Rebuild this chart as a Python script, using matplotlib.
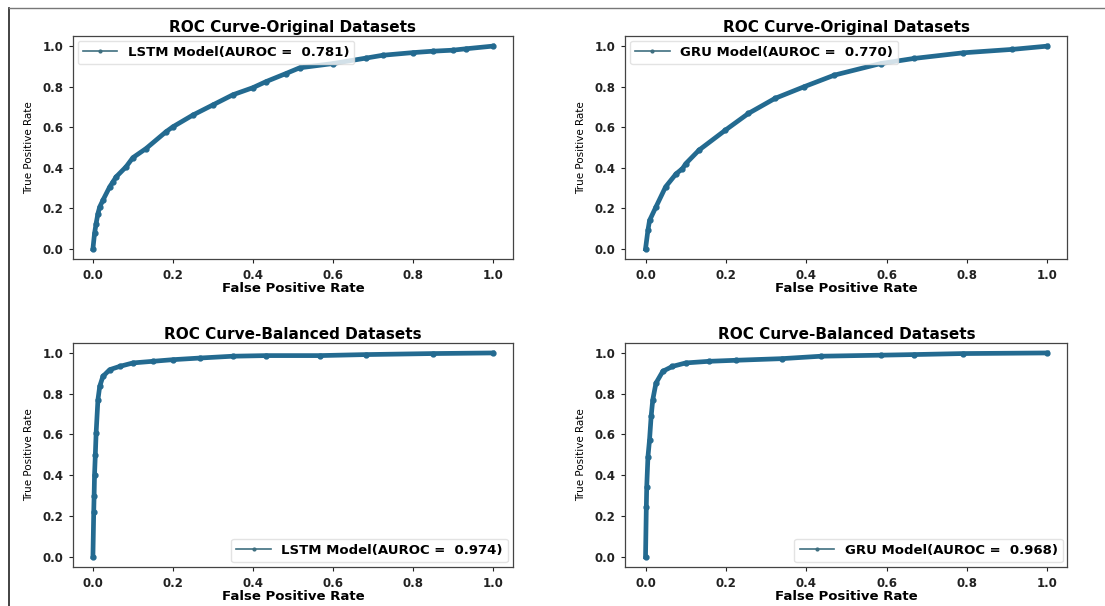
import matplotlib
matplotlib.use("Agg")
import matplotlib.pyplot as plt
from matplotlib.lines import Line2D

# ROC points (false positive rate, true positive rate)
lstm_orig_fpr = [0.0, 0.004, 0.008, 0.0125, 0.017, 0.025, 0.042, 0.05, 0.058, 0.083, 0.1, 0.133, 0.183,
                 0.2, 0.25, 0.3, 0.35, 0.4, 0.433, 0.483, 0.517, 0.6, 0.683, 0.725, 0.8,
                 0.85, 0.9, 0.933, 1.0]
lstm_orig_tpr = [0.0, 0.076, 0.125, 0.174, 0.207, 0.24, 0.306, 0.33, 0.355, 0.405, 0.45, 0.495, 0.578,
                 0.602, 0.66, 0.71, 0.76, 0.795, 0.825, 0.865, 0.893, 0.914, 0.941, 0.955, 0.968,
                 0.975, 0.98, 0.987, 1.0]

gru_orig_fpr = [0.0, 0.006, 0.01, 0.026, 0.05, 0.076, 0.092, 0.1, 0.133, 0.199, 0.256, 0.322, 0.395,
                0.47, 0.585, 0.667, 0.79, 0.913, 1.0]
gru_orig_tpr = [0.0, 0.092, 0.14, 0.207, 0.306, 0.37, 0.396, 0.42, 0.487, 0.586, 0.668, 0.742, 0.80,
                0.857, 0.914, 0.939, 0.967, 0.984, 1.0]

lstm_bal_fpr = [0.0, 0.002, 0.003, 0.004, 0.006, 0.008, 0.0125, 0.017, 0.025, 0.042, 0.067, 0.1, 0.15,
                0.2, 0.267, 0.35, 0.433, 0.567, 0.683, 0.85, 1.0]
lstm_bal_tpr = [0.0, 0.22, 0.30, 0.40, 0.50, 0.607, 0.77, 0.836, 0.885, 0.918, 0.934, 0.951, 0.959,
                0.967, 0.975, 0.984, 0.987, 0.987, 0.992, 0.997, 1.0]

gru_bal_fpr = [0.0, 0.002, 0.003, 0.006, 0.01, 0.014, 0.018, 0.026, 0.043, 0.067, 0.1, 0.158, 0.224,
               0.339, 0.437, 0.585, 0.667, 0.79, 1.0]
gru_bal_tpr = [0.0, 0.246, 0.344, 0.49, 0.574, 0.689, 0.77, 0.852, 0.91, 0.934, 0.951, 0.959, 0.964,
               0.972, 0.984, 0.989, 0.992, 0.997, 1.0]

panels = [
    ("ROC Curve-Original Datasets", "LSTM Model(AUROC =  0.781)", lstm_orig_fpr, lstm_orig_tpr, "upper left"),
    ("ROC Curve-Original Datasets", "GRU Model(AUROC =  0.770)", gru_orig_fpr, gru_orig_tpr, "upper left"),
    ("ROC Curve-Balanced Datasets", "LSTM Model(AUROC =  0.974)", lstm_bal_fpr, lstm_bal_tpr, "lower right"),
    ("ROC Curve-Balanced Datasets", "GRU Model(AUROC =  0.968)", gru_bal_fpr, gru_bal_tpr, "lower right"),
]

positions = [
    [0.066, 0.5726, 0.398, 0.368],
    [0.566, 0.5726, 0.400, 0.368],
    [0.066, 0.0644, 0.398, 0.370],
    [0.566, 0.0644, 0.400, 0.370],
]

line_color = "#236a90"
ticks = [0.0, 0.2, 0.4, 0.6, 0.8, 1.0]
tick_text = ["0.0", "0.2", "0.4", "0.6", "0.8", "1.0"]

fig = plt.figure(figsize=(11.05, 6.06), dpi=100)
fig.patch.set_facecolor("white")

for (title, label, fpr, tpr, loc), pos in zip(panels, positions):
    ax = fig.add_axes(pos)
    ax.plot(fpr, tpr, marker=".", markersize=7, linewidth=3.4, color=line_color, label=label)
    ax.set_xlim(-0.05, 1.05)
    ax.set_ylim(-0.05, 1.05)
    ax.set_xticks(ticks)
    ax.set_yticks(ticks)
    ax.set_xticklabels(tick_text, fontweight="bold", fontsize=8.5)
    ax.set_yticklabels(tick_text, fontweight="bold", fontsize=8.5)
    ax.tick_params(length=3, width=0.8, colors="#222222", pad=4)
    ax.set_title(title, fontweight="bold", fontsize=11, pad=3)
    ax.set_xlabel("False Positive Rate", fontweight="bold", fontsize=9.5, labelpad=0)
    ax.set_ylabel("True Positive Rate", fontsize=7.5, labelpad=6)
    for sp in ax.spines.values():
        sp.set_color("#444444")
        sp.set_linewidth(0.9)
    leg = ax.legend(loc=loc, prop={"weight": "bold", "size": 9.5}, framealpha=0.8,
                    borderaxespad=0.35, handlelength=2.6)
    leg.get_frame().set_edgecolor("#dddddd")
    handle = leg.legend_handles[0]
    handle.set_linewidth(1.2)
    handle.set_markersize(4)
    handle.set_color("#3f6f80")

# figure frame on the left and top edges
fig.add_artist(Line2D([9 / 1105, 9 / 1105], [0, 1 - 8 / 606], color="#222222", linewidth=1.2,
                      transform=fig.transFigure))
fig.add_artist(Line2D([9 / 1105, 1], [1 - 8 / 606, 1 - 8 / 606], color="#777777", linewidth=1.0,
                      transform=fig.transFigure))

fig.savefig("out.png", dpi=100, facecolor="white")
